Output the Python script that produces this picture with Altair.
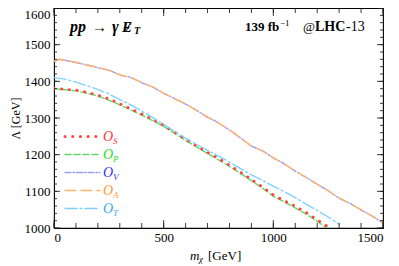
import altair as alt
import pandas as pd

# ---------------- data ----------------
m_SP = [0, 50, 100, 150, 200, 250, 300, 350, 400, 450, 500, 550, 600, 650, 700,
        750, 800, 850, 900, 950, 1000, 1050, 1100, 1150, 1200, 1250]
lam_S = [1381, 1378, 1376, 1370, 1362, 1352, 1339, 1325, 1311, 1296, 1280, 1261,
         1242, 1224, 1206, 1190, 1171, 1152, 1132, 1112, 1090, 1074, 1059, 1042, 1022, 1003]
lam_P = [1380, 1377, 1374, 1368, 1360, 1349, 1336, 1322, 1308, 1293, 1277, 1258,
         1239, 1221, 1203, 1186, 1168, 1149, 1129, 1109, 1087, 1071, 1055, 1038, 1018, 998]

m_T = [0, 50, 100, 150, 200, 250, 300, 350, 400, 450, 500, 550, 600, 650, 700,
       750, 800, 850, 900, 950, 1000, 1050, 1100, 1150, 1200, 1250, 1300]
lam_T = [1410, 1406, 1398, 1388, 1378, 1366, 1350, 1336, 1319, 1301, 1283, 1263,
         1245, 1228, 1212, 1196, 1180, 1162, 1145, 1130, 1114, 1099, 1083, 1065, 1048, 1030, 1010]

m_AV = [0, 25, 50, 100, 150, 200, 250, 300, 350, 400, 450, 500, 550, 600, 650, 700,
        750, 800, 850, 900, 950, 1000, 1050, 1100, 1150, 1200, 1250, 1300, 1350,
        1400, 1450, 1500]
lam_A = [1455, 1460, 1458, 1452, 1444, 1438, 1430, 1418, 1410, 1397, 1384, 1368,
         1352, 1339, 1320, 1303, 1286, 1268, 1245, 1224, 1210, 1192, 1174, 1156,
         1137, 1120, 1101, 1082, 1066, 1050, 1032, 1015]
lam_V = [1454, 1460, 1457, 1451, 1445, 1437, 1431, 1417, 1411, 1396, 1385, 1367,
         1353, 1338, 1321, 1302, 1287, 1267, 1246, 1223, 1211, 1191, 1175, 1155,
         1138, 1119, 1102, 1081, 1067, 1049, 1033, 1014]

x_major = [0, 500, 1000, 1500]
x_minor = [0, 100, 200, 300, 400, 500, 600, 700, 800, 900, 1000, 1100, 1200, 1300, 1400, 1500]
y_major = [1000, 1100, 1200, 1300, 1400, 1500, 1600]
y_minor = [1000, 1020, 1040, 1060, 1080, 1100, 1120, 1140, 1160, 1180, 1200, 1220,
           1240, 1260, 1280, 1300, 1320, 1340, 1360, 1380, 1400, 1420, 1440, 1460,
           1480, 1500, 1520, 1540, 1560, 1580, 1600]

# ---------------- style ----------------
W, H = 329, 220
FONT = "Liberation Serif"
xs = alt.Scale(domain=[0, 1500], nice=False, zero=False)
ys = alt.Scale(domain=[1000, 1600], nice=False, zero=False)

# name, x, y, line colour, label colour, dash, width, legend row
series = [
    ("P", m_SP, lam_P, "#5fdc5f", "#22dd22", [6, 3], 1.4, 1),
    ("S", m_SP, lam_S, "#ff4444", "#ff3333", [0.1, 7.6], 3.0, 0),
    ("T", m_T, lam_T, "#80d0ff", "#33aaee", [12, 3, 2, 3], 1.4, 4),
    ("V", m_AV, lam_V, "#9a9aff", "#3333ee", [6, 2, 1.5, 2], 1.4, 2),
    ("A", m_AV, lam_A, "#ffb46e", "#ff9933", [11, 5], 1.4, 3),
]

x_axis = alt.Axis(values=x_major, format="d", ticks=False, domain=False, grid=False,
                  labelFont=FONT, labelFontSize=13, labelColor="#000",
                  labelPadding=3, title=None)
y_axis = alt.Axis(values=y_major, format="d", ticks=False, domain=False, grid=False,
                  labelFont=FONT, labelFontSize=13, labelColor="#000",
                  labelPadding=4,
                  labelBaseline={"condition": {"test": "datum.value == 1600", "value": "top"},
                                 "value": "middle"},
                  title="Λ [GeV]", titleFont=FONT,
                  titleFontSize=12, titleFontWeight="normal", titleColor="#000",
                  titlePadding=2)

layers = []
for name, mx, ly, col, lcol, dash, sw, row in series:
    df = pd.DataFrame({"m": mx, "lam": ly})
    line = alt.Chart(df).mark_line(
        color=col, strokeDash=dash, strokeWidth=sw, strokeCap="round", clip=True
    ).encode(
        x=alt.X("m:Q", scale=xs, axis=x_axis),
        y=alt.Y("lam:Q", scale=ys, axis=y_axis),
        order="m:Q",
    )
    layers.append(line)
    ypix = 128.5 + 18 * row
    leg = alt.Chart(df.head(1)).mark_rule(
        color=col, strokeDash=dash, strokeWidth=sw, strokeCap="round"
    ).encode(x=alt.value(11), x2=alt.value(46), y=alt.value(ypix))
    lab = alt.Chart(df.head(1)).mark_text(
        text="O", font=FONT, fontSize=14, fontStyle="italic", color=lcol,
        align="left", baseline="middle"
    ).encode(x=alt.value(49), y=alt.value(ypix))
    sub = alt.Chart(df.head(1)).mark_text(
        text=name, font=FONT, fontSize=9, fontStyle="italic", color=lcol,
        align="left", baseline="middle"
    ).encode(x=alt.value(59), y=alt.value(ypix + 4))
    layers += [leg, lab, sub]

# ---------------- inward ticks on all four sides ----------------
def xticks(vals, length):
    d = pd.DataFrame({"v": vals})
    b = alt.Chart(d).mark_rule(color="#222", strokeWidth=0.9).encode(
        x=alt.X("v:Q", scale=xs, axis=x_axis), y=alt.value(H), y2=alt.value(H - length))
    t = alt.Chart(d).mark_rule(color="#222", strokeWidth=0.9).encode(
        x=alt.X("v:Q", scale=xs, axis=x_axis), y=alt.value(0), y2=alt.value(length))
    return [b, t]

def yticks(vals, length):
    d = pd.DataFrame({"v": vals})
    l = alt.Chart(d).mark_rule(color="#222", strokeWidth=0.9).encode(
        y=alt.Y("v:Q", scale=ys, axis=y_axis), x=alt.value(0), x2=alt.value(length))
    r = alt.Chart(d).mark_rule(color="#222", strokeWidth=0.9).encode(
        y=alt.Y("v:Q", scale=ys, axis=y_axis), x=alt.value(W), x2=alt.value(W - length))
    return [l, r]

layers += xticks(x_minor, 5) + xticks(x_major, 8)
layers += yticks(y_minor, 3) + yticks(y_major, 6)

# ---------------- annotations ----------------
one = pd.DataFrame({"a": [0]})
def txt(s, x, y, size=13, style="normal", weight="normal", align="left", color="#000"):
    return alt.Chart(one).mark_text(
        text=s, font=FONT, fontSize=size, fontStyle=style, fontWeight=weight,
        align=align, baseline="middle", color=color
    ).encode(x=alt.value(x), y=alt.value(y))

layers += [
    txt("pp", 16, 19, size=16, style="italic", weight="bold"),
    txt("→", 38, 19, size=15, weight="bold"),
    txt("γ", 58, 19, size=16, style="italic", weight="bold"),
    txt("E", 68, 19, size=15, style="italic", weight="bold"),
    txt("/", 72, 19, size=15, style="italic", weight="bold"),
    txt("T", 80, 23, size=10, style="italic", weight="bold"),
    txt("139 fb", 191, 19, size=13, weight="bold"),
    txt("−1", 226, 15, size=9),
    txt("@", 249, 19, size=13),
    txt("LHC", 261, 19, size=14, weight="bold"),
    txt("-13", 292, 19, size=14),
    txt("m", 136, 248, size=13, style="italic"),
    txt("χ", 145, 251, size=9, style="italic"),
    txt("[GeV]", 154, 248, size=13),
]

chart = alt.layer(*layers).properties(
    width=W, height=H,
    autosize=alt.AutoSizeParams(type="none"),
    padding={"left": 46, "top": 0, "right": 8, "bottom": 38},
).configure_view(stroke="#000", strokeWidth=1.1)

chart.save("out.html", embed_options={"renderer": "svg", "actions": False})
